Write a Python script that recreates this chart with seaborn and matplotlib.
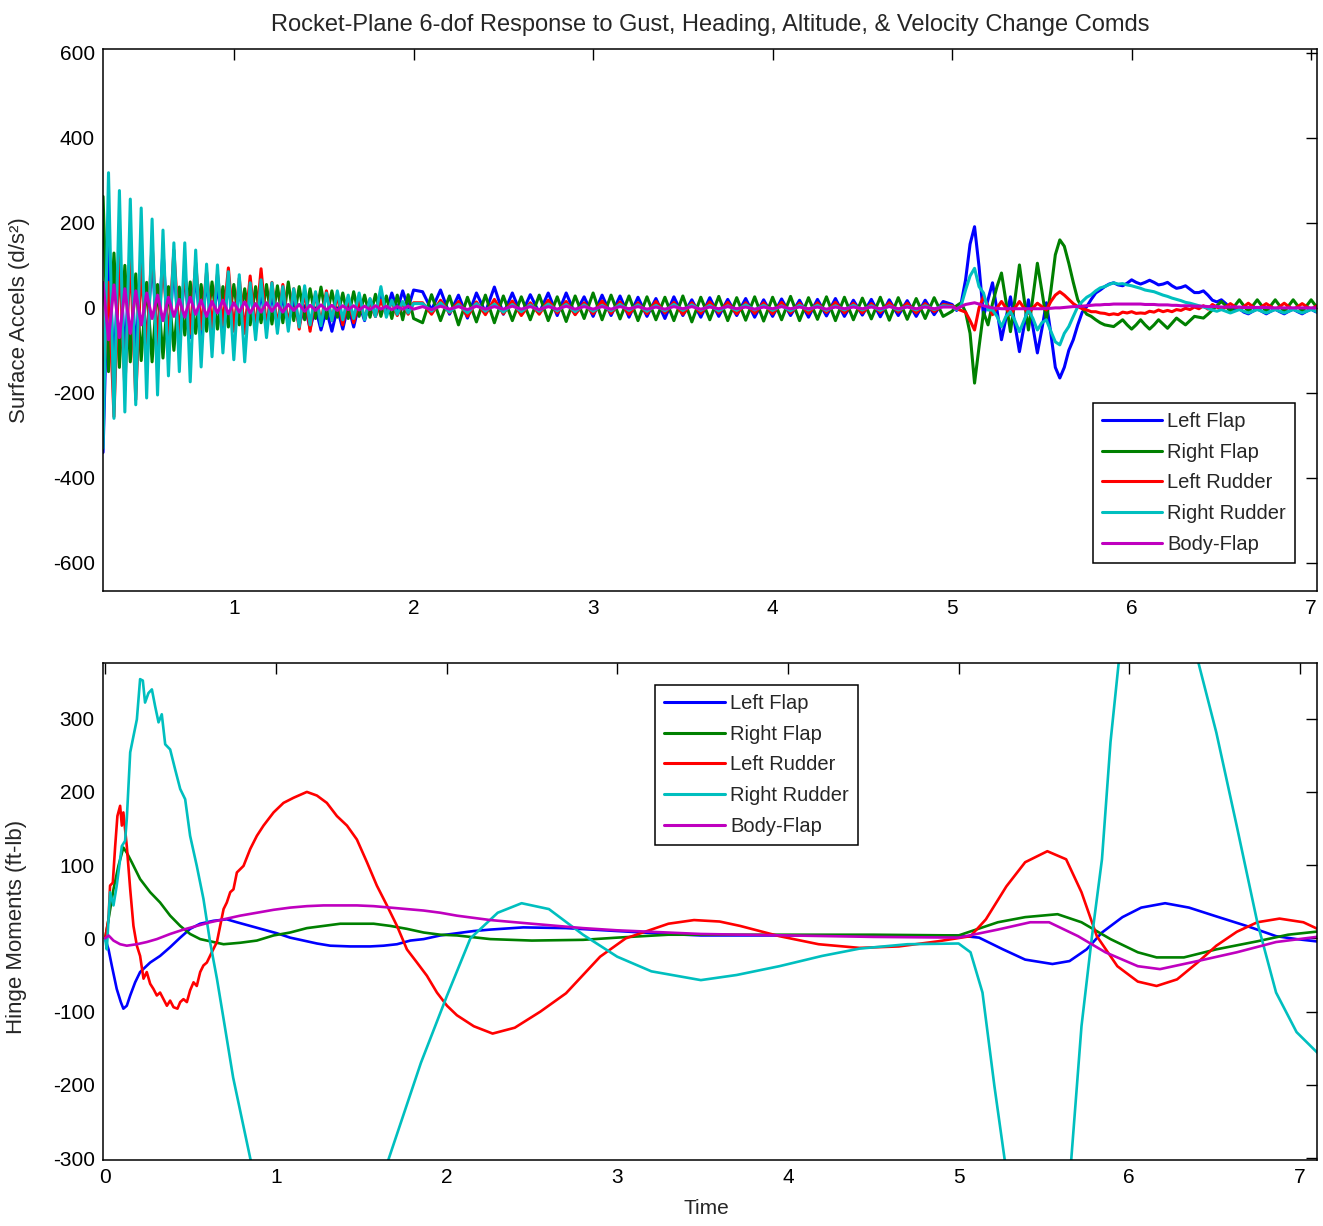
import numpy as np
import pandas as pd
import matplotlib
matplotlib.use("Agg")
import matplotlib.pyplot as plt
import seaborn as sns

# ---------------- data ----------------
SERIES = ["Left Flap", "Right Flap", "Left Rudder", "Right Rudder", "Body-Flap"]
COLORS = ["#0000ff", "#008000", "#ff0000", "#00bfbf", "#bf00bf"]

TITLE = "Rocket-Plane 6-dof Response to Gust, Heading, Altitude, & Velocity Change Comds"

# Top panel: surface accelerations, sampled in three time windows
WIN_A = (0.27, 2.0)
WIN_B = (2.05, 4.95)
WIN_C = (5.0, 7.05)

LF_ACC_A = [-340, 150, -150, 155, -120, 136, -110, 113, -95, 120,
            -90, 136, -85, 100, -80, 85, -70, 80, -65, 66,
            -60, 55, -55, 60, -50, 45, -45, 40, -50, 35,
            -45, 30, -40, 25, -35, 20,
            -40, 5, -48, 0, -52, -5, -55, 0, -50, 5, -45, 10, -30, 20, -20, 30, -10, 35, -5, 40, 0, 42]
RF_ACC_A = [262, -150, 129, -140, 100, -127, 80, -124, 60, -127,
            55, -118, 50, -100, 49, -64, 61, -60, 55, -55,
            61, -50, 50, -45, 55, -40, 45, -40, 50, -35,
            55, -38, 52, -35, 61, -30, 50, -28, 45, -25,
            49, -25, 40, -22, 35, -25, 38, -20, 30, -22,
            32, -20, 28, -25, 30, -28, 31, -25]
LR_ACC_A = [-190, 60, -256, 129, -193, 131, -216, 100, -106, 153,
            -90, 110, -80, 136, -70, 90, -60, 106, -50, 85,
            -45, 80, -40, 94, -55, 70, -60, 75, -55, 92,
            -50, 60, -45, 55, -40, 45, -50, 40, -55, 35,
            -35, 40, -30, 30, -40, 25, -35, 20, -25, 15,
            -20, 18, -15, 15, -18, 12, -15, 12]
RR_ACC_A = [-330, 318, -260, 276, -245, 256, -228, 235, -212, 209,
            -205, 183, -160, 153, -150, 153, -174, 136, -139, 103,
            -115, 101, -106, 85, -122, 78, -127, 59, -75, 66,
            -70, 59, -60, 50, -55, 45, -45, 52, -40, 38,
            -42, 35, -30, 40, -28, 30, -25, 35, -28, 22,
            -20, 50, -22, 18, -15, 15, -12, 10]
BF_ACC_A = [60, -75, 54, -70, 45, -60, 40, -40, 35, -25,
            30, -30, 25, -20, 20, -22, 25, -15, 18, -20,
            15, -12, 18, -14, 12, -10, 14, -12, 10, -10,
            12, -8, 10, -10, 8, -6, 8, -8, 6, -6,
            7, -5, 6, -6, 5, -4, 5, -5, 4, -4,
            5, -3, 4, -4, 3, -3, 4, -3]

LF_ACC_B = [38, -5, 42, -15, 30, -24, 35, -10, 49, -15,
            35, -16, 31, -12, 35, -18, 35, -15, 26, -20,
            30, -18, 28, -22, 25, -20, 22, -25, 26, -18,
            19, -22, 24, -20, 20, -18, 22, -22, 19, -20,
            21, -18, 18, -22, 20, -19, 22, -20, 18, -17,
            20, -21, 19, -18, 17, -20, 18, -16, 15]
RF_ACC_B = [-35, 31, -30, 28, -40, 25, -33, 30, -35, 28,
            -30, 26, -28, 30, -30, 26, -32, 28, -25, 35,
            -28, 30, -26, 28, -30, 26, -28, 25, -30, 28,
            -33, 25, -28, 27, -30, 24, -29, 26, -31, 25,
            -28, 27, -30, 24, -27, 26, -30, 25, -28, 23,
            -26, 25, -29, 24, -27, 22, -25, 24, -20]
LR_ACC_B = [12, -15, 18, -12, 15, -20, 14, -16, 20, -14,
            16, -18, 12, -15, 18, -12, 15, -16, 12, -14,
            16, -13, 14, -15, 12, -14, 15, -12, 13, -15,
            12, -13, 14, -12, 13, -14, 12, -13, 12, -14,
            13, -12, 11, -13, 12, -11, 13, -12, 11, -12,
            10, -11, 12, -10, 11, -12, 10, -9, 8]
RR_ACC_B = [10, -8, 12, -10, 8, -12, 10, -8, 9, -10,
            8, -9, 7, -8, 9, -7, 8, -9, 7, -8,
            6, -7, 8, -6, 7, -8, 6, -7, 8, -6,
            7, -6, 6, -7, 5, -6, 7, -5, 6, -6,
            5, -7, 6, -5, 6, -6, 5, -5, 6, -5,
            5, -6, 5, -5, 4, -5, 5, -4, 5]
BF_ACC_B = [3, -4, 4, -3, 3, -4, 4, -3, 3, -3,
            4, -3, 3, -4, 3, -3, 4, -3, 3, -3,
            3, -3, 3, -2, 3, -3, 2, -3, 3, -2,
            3, -3, 2, -2, 3, -2, 2, -3, 2, -2,
            3, -2, 2, -2, 2, -3, 2, -2, 2, -2,
            2, -2, 3, -2, 2, -2, 2, -2, 2]

LF_ACC_C = [8, -6, 10, 66, 150, 191, 97, -20, 20, 59,
            -5, -75, -25, 26, -40, -103, -45, 19, -45, -106,
            -50, 12, -60, -140, -165, -140, -100, -75, -40, -10,
            3, 20, 35, 42, 50, 56, 59, 54, 52, 58,
            66, 60, 56, 60, 65, 60, 54, 56, 60, 52,
            46, 48, 52, 44, 36, 36, 40, 30, 18, 14,
            19, 10, -2, -5, -2, -10, -14, -8, -2, -8,
            -14, -8, -3, -9, -14, -8, -3, -9, -14, -8,
            -3, -9, -12]
RF_ACC_C = [-8, 5, 12, -10, -60, -177, -92, -10, -40, 10,
            50, 82, 15, -56, 20, 101, 25, -52, 25, 105,
            40, -28, 40, 125, 160, 145, 105, 60, 19, 0,
            -15, -20, -28, -35, -40, -42, -44, -36, -28, -40,
            -50, -40, -28, -40, -50, -40, -28, -38, -48, -36,
            -24, -32, -40, -30, -20, -22, -24, -15, -5, 5,
            15, 5, -9, 5, 19, 5, -9, 5, 19, 5,
            -9, 5, 19, 5, -9, 5, 19, 5, -9, 5,
            19, 5, -9]
LR_ACC_C = [5, -2, -6, -10, -30, -52, 0, 26, 5, -16,
            0, 15, 0, -16, 0, 15, 0, -13, 0, 11,
            3, -5, 15, 30, 38, 30, 20, 10, 3, -2,
            -5, -9, -9, -12, -13, -16, -14, -16, -10, -12,
            -9, -13, -12, -13, -8, -10, -5, -9, -6, -9,
            -4, -6, -1, -4, 2, -2, 5, -3, 8, 2,
            -4, 2, 10, 3, -4, 3, 11, 3, -4, 3,
            10, 3, -4, 3, 11, 3, -4, 3, 10, 3,
            -3, 3, 9]
RR_ACC_C = [3, -4, 5, 42, 75, 93, 50, 35, -5, -5,
            -20, -44, -20, -9, -30, -56, -30, -5, -25, -52,
            -35, -28, -55, -80, -87, -60, -44, -20, 3, 15,
            25, 31, 40, 47, 50, 55, 59, 56, 57, 54,
            52, 49, 46, 42, 40, 38, 34, 30, 27, 23,
            20, 17, 13, 11, 8, 5, 2, -1, -5, -8,
            -4, -8, -12, -8, -4, -8, -12, -8, -4, -8,
            -12, -8, -4, -8, -12, -8, -4, -8, -12, -8,
            -4, -8, -12]
BF_ACC_C = [2, -2, 3, 8, 10, 12, 9, 5, 2, 0,
            -1, -2, -2, -2, -2, -2, -2, -2, -2, -2,
            -2, -1, -1, 0, 0, 1, 2, 3, 3, 4,
            5, 6, 7, 7, 8, 8, 9, 9, 9, 9,
            9, 9, 9, 8, 8, 8, 7, 7, 7, 6,
            6, 5, 5, 5, 4, 4, 4, 3, 3, 3,
            2, 2, 2, 2, 2, 1, 1, 1, 1, 1,
            1, 0, 0, 0, 0, 0, 0, 0, 0, 0,
            0, 0, 0]

# Bottom panel: hinge moments (time, value) pairs per surface
LF_HM_T = [0.0, 0.020, 0.039, 0.068, 0.092, 0.107, 0.127, 0.147, 0.176, 0.205, 0.264, 0.322, 0.381,
           0.440, 0.498, 0.557, 0.635, 0.713, 0.772, 0.850, 0.928, 1.006, 1.084, 1.163, 1.241, 1.319,
           1.436, 1.553, 1.631, 1.710, 1.788, 1.866, 1.964, 2.061, 2.159, 2.257, 2.45, 2.7, 3.0, 3.3,
           3.49, 4.0, 4.5, 5.0, 5.12, 5.26, 5.39, 5.55, 5.65, 5.75, 5.84, 5.96, 6.07, 6.21, 6.35, 6.51,
           6.70, 6.86, 6.98, 7.13]
LF_HM_V = [0, -15, -37, -69, -87, -96, -92, -78, -60, -46, -33, -24, -12,
           1, 13, 20, 24, 26, 22, 17, 12, 7, 1, -3, -7, -10,
           -11, -11, -10, -8, -3, -1, 4, 7, 10, 12, 15, 14, 10, 6,
           4, 4, 4, 4, 1, -15, -29, -35, -31, -15, 8, 29, 42, 48, 42, 30,
           16, 3, -1, -5]
RF_HM_T = [0.0, 0.020, 0.049, 0.078, 0.107, 0.127, 0.156, 0.205, 0.264, 0.322, 0.381, 0.440, 0.498,
           0.557, 0.635, 0.694, 0.791, 0.889, 0.987, 1.084, 1.182, 1.280, 1.378, 1.475, 1.573, 1.671,
           1.768, 1.866, 1.964, 2.061, 2.257, 2.5, 2.8, 3.0, 3.3, 3.49, 4.0, 4.5, 5.0, 5.23, 5.39, 5.58,
           5.72, 5.89, 6.05, 6.16, 6.32, 6.51, 6.75, 6.93, 7.13]
RF_HM_V = [0, 26, 67, 99, 124, 117, 104, 81, 63, 49, 31, 17, 6,
           -1, -5, -8, -6, -3, 4, 8, 14, 17, 20, 20, 20, 17,
           13, 8, 5, 4, -1, -3, -2, 1, 5, 5, 5, 5, 4, 22, 29, 33,
           22, -1, -19, -26, -26, -15, -4, 5, 10]
LR_HM_T = [0.0, 0.020, 0.029, 0.045, 0.059, 0.072, 0.088, 0.098, 0.107, 0.127, 0.147, 0.166, 0.186,
           0.205, 0.225, 0.244, 0.264, 0.283, 0.303, 0.322, 0.342, 0.362, 0.381, 0.401, 0.424, 0.440,
           0.459, 0.479, 0.498, 0.518, 0.537, 0.557, 0.576, 0.596, 0.625, 0.655, 0.674, 0.694, 0.713,
           0.733, 0.752, 0.772, 0.811, 0.850, 0.889, 0.928, 0.987, 1.045, 1.104, 1.182, 1.241, 1.299,
           1.358, 1.417, 1.475, 1.534, 1.592, 1.651, 1.710, 1.768, 1.827, 1.885, 1.944, 2.003, 2.061,
           2.16, 2.27, 2.4, 2.55, 2.7, 2.9, 3.05, 3.3, 3.45, 3.60, 3.72, 3.95, 4.18, 4.42, 4.65, 4.88,
           5.07, 5.16, 5.28, 5.39, 5.52, 5.63, 5.72, 5.81, 5.93, 6.05, 6.16, 6.28, 6.40, 6.51, 6.63,
           6.75, 6.88, 7.02, 7.13]
LR_HM_V = [0, 26, 72, 76, 126, 167, 181, 154, 172, 126, 67, 17, -10,
           -24, -55, -46, -62, -69, -78, -74, -83, -92, -85, -94, -96, -87,
           -83, -87, -71, -60, -65, -46, -37, -33, -19, -5, 17, 40, 49,
           63, 67, 90, 99, 122, 140, 154, 172, 185, 192, 200, 195, 185,
           167, 154, 135, 104, 72, 45, 17, -15, -33, -51, -74, -92, -105,
           -120, -130, -122, -100, -75, -25, 0, 20, 25, 23, 17, 3, -8, -13, -11, -4,
           3, 26, 71, 104, 119, 108, 63, 3, -38, -59, -65, -56, -33, -10, 9,
           22, 27, 22, 10]
RR_HM_T = [0.0, 0.010, 0.029, 0.049, 0.068, 0.098, 0.117, 0.127, 0.147, 0.166, 0.186, 0.205, 0.221,
           0.234, 0.254, 0.274, 0.293, 0.313, 0.332, 0.352, 0.381, 0.410, 0.440, 0.469, 0.498, 0.537,
           0.576, 0.615, 0.655, 0.694, 0.75, 0.85, 1.0, 1.25, 1.45, 1.66, 1.85, 2.0, 2.14, 2.3, 2.44,
           2.6, 2.8, 3.0, 3.2, 3.49, 3.7, 3.95, 4.2, 4.42, 4.7, 5.0, 5.07, 5.14, 5.21, 5.27, 5.47,
           5.66, 5.72, 5.78, 5.84, 5.89, 5.94, 6.17, 6.40, 6.51, 6.63, 6.75, 6.86, 6.98, 7.11]
RR_HM_V = [0, -15, 63, 45, 72, 126, 133, 163, 254, 276, 299, 354, 352,
           322, 335, 340, 317, 295, 306, 265, 258, 231, 204, 190, 140, 99,
           54, -5, -55, -110, -190, -300, -450, -520, -450, -302, -170, -80, 0, 35, 48,
           40, 5, -25, -45, -57, -50, -38, -24, -14, -8, -7, -19, -74, -202, -302, -480,
           -302, -120, 0, 108, 268, 381, 520, 381, 281, 153, 22, -74, -128, -158]
BF_HM_T = [0.0, 0.020, 0.049, 0.088, 0.127, 0.186, 0.244, 0.303, 0.381, 0.459, 0.537, 0.615, 0.694,
           0.791, 0.889, 0.987, 1.084, 1.182, 1.280, 1.378, 1.475, 1.573, 1.671, 1.768, 1.866, 1.964,
           2.061, 2.159, 2.257, 2.5, 2.8, 3.0, 3.49, 4.0, 4.5, 5.0, 5.23, 5.42, 5.53, 5.70, 5.86, 6.05,
           6.18, 6.40, 6.63, 6.86, 7.13]
BF_HM_V = [0, 4, -3, -8, -10, -8, -5, -1, 6, 12, 17, 22, 26,
           31, 35, 39, 42, 44, 45, 45, 45, 44, 42, 40, 38, 35,
           31, 28, 25, 20, 14, 11, 6, 4, 2, 1, 12, 22, 22, 3, -19, -38,
           -42, -31, -19, -5, 3]

ACC_TICKS = [-600, -400, -200, 0, 200, 400, 600]
HM_TICKS = [-300, -200, -100, 0, 100, 200, 300]
TIME_TICKS_TOP = [1, 2, 3, 4, 5, 6, 7]
TIME_TICKS_BOT = [0, 1, 2, 3, 4, 5, 6, 7]

# ---------------- frames ----------------
acc_segments = {
    "Left Flap": [LF_ACC_A, LF_ACC_B, LF_ACC_C],
    "Right Flap": [RF_ACC_A, RF_ACC_B, RF_ACC_C],
    "Left Rudder": [LR_ACC_A, LR_ACC_B, LR_ACC_C],
    "Right Rudder": [RR_ACC_A, RR_ACC_B, RR_ACC_C],
    "Body-Flap": [BF_ACC_A, BF_ACC_B, BF_ACC_C],
}
parts = []
for name in SERIES:
    for (t0, t1), vals in zip([WIN_A, WIN_B, WIN_C], acc_segments[name]):
        parts.append(pd.DataFrame({"t": np.linspace(t0, t1, len(vals)),
                                   "v": np.asarray(vals, float), "series": name}))
acc_df = pd.concat(parts, ignore_index=True)

hm_pairs = {
    "Left Flap": (LF_HM_T, LF_HM_V),
    "Right Flap": (RF_HM_T, RF_HM_V),
    "Left Rudder": (LR_HM_T, LR_HM_V),
    "Right Rudder": (RR_HM_T, RR_HM_V),
    "Body-Flap": (BF_HM_T, BF_HM_V),
}
hm_df = pd.concat([pd.DataFrame({"t": hm_pairs[n][0], "v": np.asarray(hm_pairs[n][1], float), "series": n})
                   for n in SERIES], ignore_index=True)

# ---------------- style ----------------
sns.set_style("white")
FONT = ["Liberation Sans Narrow", "Liberation Sans", "DejaVu Sans"]
REG = ["Liberation Sans", "DejaVu Sans"]
plt.rcParams["font.family"] = FONT
plt.rcParams["axes.unicode_minus"] = False
plt.rcParams["axes.edgecolor"] = "black"
plt.rcParams["axes.linewidth"] = 1.1

palette = dict(zip(SERIES, COLORS))

fig = plt.figure(figsize=(13.23, 12.26), dpi=100)
ax1 = fig.add_axes([0.0779, 0.518, 0.9176, 0.442])
ax2 = fig.add_axes([0.0779, 0.0538, 0.9176, 0.4054])

sns.lineplot(data=acc_df, x="t", y="v", hue="series", hue_order=SERIES, palette=palette,
             estimator=None, sort=False, linewidth=2.2, ax=ax1, legend=False)
sns.lineplot(data=hm_df, x="t", y="v", hue="series", hue_order=SERIES, palette=palette,
             estimator=None, sort=False, linewidth=1.9, ax=ax2, legend=False)

ax1.set_xlim(0.27, 7.033)
ax1.set_ylim(-666, 609)
ax2.set_xlim(-0.012, 7.1)
ax2.set_ylim(-302.7, 376)

ax1.set_xticks(TIME_TICKS_TOP)
ax1.set_yticks(ACC_TICKS)
ax2.set_xticks(TIME_TICKS_BOT)
ax2.set_yticks(HM_TICKS)

for ax in (ax1, ax2):
    ax.tick_params(direction="in", length=8, width=1.0, top=True, right=True,
                   labelsize=15, colors="black", pad=6)
    for s in ax.spines.values():
        s.set_visible(True)
        s.set_color("black")
        s.set_linewidth(1.1)
    ax.set_xlabel("")
    ax.set_ylabel("")
    ax.grid(False)

ax1.set_title(TITLE, fontsize=17, pad=13)
ax1.set_ylabel("Surface Accels (d/s²)", family=REG, fontsize=16)
ax1.yaxis.set_label_coords(-0.06, 0.5)
ax2.set_ylabel("Hinge Moments (ft-lb)", family=REG, fontsize=16)
ax2.yaxis.set_label_coords(-0.063, 0.47)
ax2.set_xlabel("Time", fontsize=15)
ax2.xaxis.set_label_coords(0.497, -0.078)

leg_kw = dict(frameon=True, fancybox=False, shadow=False, fontsize=14.5, handlelength=3.0,
              handletextpad=0.25, labelspacing=0.58, borderpad=0.45, borderaxespad=0.0)
h1 = ax1.get_lines()[:5]
lg1 = ax1.legend(h1, SERIES, loc="lower right", bbox_to_anchor=(0.982, 0.052), **leg_kw)
h2 = ax2.get_lines()[:5]
lg2 = ax2.legend(h2, SERIES, loc="upper left", bbox_to_anchor=(0.455, 0.956), **leg_kw)
for lg in (lg1, lg2):
    fr = lg.get_frame()
    fr.set_edgecolor("black")
    fr.set_linewidth(1.1)
    fr.set_alpha(1)
    for ln in lg.get_lines():
        ln.set_linewidth(2.2)

fig.savefig("out.png", dpi=100, facecolor="white")
